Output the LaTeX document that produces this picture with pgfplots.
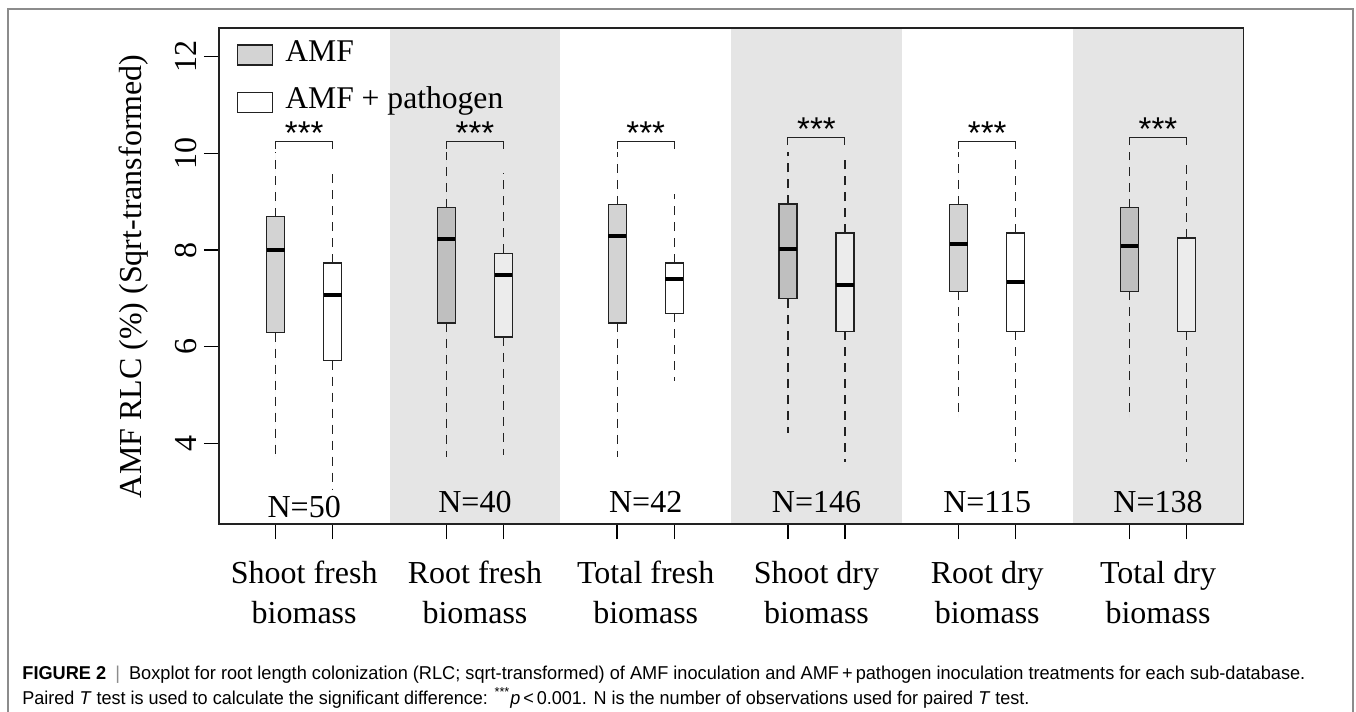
\documentclass[border=0pt]{standalone}
\usepackage{graphicx}
\usepackage{pgfplots}
\pgfplotsset{compat=1.18}
\usepgfplotslibrary{statistics}
\usepackage{fontspec}
\setmainfont{Liberation Serif}
\newfontfamily\capfont{Liberation Sans}
\definecolor{band}{HTML}{E5E5E5}
\definecolor{amf}{HTML}{5C5C5C}
\definecolor{edge}{HTML}{222222}
\definecolor{legamf}{HTML}{D3D3D3}
\definecolor{framec}{HTML}{8C8C8C}
\pgfplotsset{
  boxbase/.style={draw=edge, line width=0.6pt, forget plot, fill opacity=0.27,
    boxplot/draw direction=y,
    boxplot/box extend=0.105, boxplot/whisker extend=0,
    boxplot/every whisker/.style={dash pattern=on 4.5pt off 3.5pt, line width=0.55pt},
    boxplot/every median/.style={line width=2pt, draw=black}},
  amfbox/.style={boxbase, fill=amf},
  patbox/.style={boxbase, fill=white},
}
\begin{document}
\begin{tikzpicture}
\path[use as bounding box] (0,0) rectangle (678pt,356pt);
\draw[framec, line width=0.6pt] (4pt,-1pt) -- (4pt,351.5pt) -- (676.5pt,351.5pt) -- (676.5pt,-1pt);
\begin{axis}[
  at={(109.4pt,93.85pt)}, anchor=south west,
  scale only axis, width=512.3pt, height=248pt,
  xmin=0.5, xmax=6.5, ymin=2.324, ymax=12.588,
  axis on top,
  axis line style={line width=0.8pt, draw=edge},
  tick align=outside, xtick align=outside, ytick align=outside,
  xtick pos=bottom, ytick pos=left,
  major tick length=7.5pt,
  tick style={line width=0.7pt, black},
  /pgf/number format/assume math mode=true,
  xtick={0.833,1.167,1.833,2.167,2.833,3.167,3.833,4.167,4.833,5.167,5.833,6.167},
  xticklabels={},
  extra x ticks={1,2,3,4,5,6},
  extra x tick labels={{Shoot fresh\\biomass},{Root fresh\\biomass},{Total fresh\\biomass},{Shoot dry\\biomass},{Root dry\\biomass},{Total dry\\biomass}},
  extra x tick style={major tick length=0pt, xticklabel style={align=center, font=\fontsize{16}{20}\selectfont, anchor=north, yshift=-15pt}},
  ytick={4,6,8,10,12},
  yticklabel style={rotate=90, anchor=south, font=\fontsize{16}{19}\selectfont, xshift=0pt},
  ylabel={AMF RLC (\%) (Sqrt-transformed)},
  ylabel style={at={(axis description cs:-0.0828,0.5)}, anchor=center, font=\fontsize{16}{19}\selectfont},
  legend style={at={(axis description cs:0,1)}, anchor=north west, draw=none, fill=none,
    font=\fontsize{15.8}{15.8}\selectfont, xshift=8.9pt, yshift=-6.5pt, row sep=10.3pt, inner sep=0pt,
    nodes={inner sep=0pt, text height=10pt, text depth=3.3pt},
    /tikz/every odd column/.style={column sep=6.3pt}},
  legend cell align=left,
  legend image code/.code={\draw[#1] (0pt,-5pt) rectangle (17.3pt,5pt);},
]
% background bands
\addplot[fill=band, draw=none, forget plot] coordinates {(1.5,2.324) (1.5,12.588) (2.5,12.588) (2.5,2.324)} -- cycle;
\addplot[fill=band, draw=none, forget plot] coordinates {(3.5,2.324) (3.5,12.588) (4.5,12.588) (4.5,2.324)} -- cycle;
\addplot[fill=band, draw=none, forget plot] coordinates {(5.5,2.324) (5.5,12.588) (6.5,12.588) (6.5,2.324)} -- cycle;

% boxplots
\addplot[amfbox, boxplot prepared={draw position=0.833, lower whisker=3.72, lower quartile=6.29, median=8.00, upper quartile=8.69, upper whisker=10.02}] coordinates {};
\addplot[patbox, boxplot prepared={draw position=1.167, lower whisker=3.05, lower quartile=5.71, median=7.06, upper quartile=7.73, upper whisker=9.60}] coordinates {};
\addplot[amfbox, boxplot prepared={draw position=1.833, lower whisker=3.72, lower quartile=6.49, median=8.23, upper quartile=8.875, upper whisker=10.02}] coordinates {};
\addplot[patbox, boxplot prepared={draw position=2.167, lower whisker=3.75, lower quartile=6.20, median=7.49, upper quartile=7.93, upper whisker=9.60}] coordinates {};
\addplot[amfbox, boxplot prepared={draw position=2.833, lower whisker=3.72, lower quartile=6.49, median=8.30, upper quartile=8.94, upper whisker=10.02}] coordinates {};
\addplot[patbox, boxplot prepared={draw position=3.167, lower whisker=5.28, lower quartile=6.69, median=7.39, upper quartile=7.73, upper whisker=9.15}] coordinates {};
\addplot[amfbox, boxplot prepared={draw position=3.833, lower whisker=4.22, lower quartile=6.99, median=8.02, upper quartile=8.95, upper whisker=10.02}] coordinates {};
\addplot[patbox, boxplot prepared={draw position=4.167, lower whisker=3.62, lower quartile=6.32, median=7.28, upper quartile=8.35, upper whisker=9.96}] coordinates {};
\addplot[amfbox, boxplot prepared={draw position=4.833, lower whisker=4.53, lower quartile=7.145, median=8.13, upper quartile=8.94, upper whisker=10.02}] coordinates {};
\addplot[patbox, boxplot prepared={draw position=5.167, lower whisker=3.62, lower quartile=6.32, median=7.34, upper quartile=8.35, upper whisker=9.87}] coordinates {};
\addplot[amfbox, boxplot prepared={draw position=5.833, lower whisker=4.53, lower quartile=7.145, median=8.09, upper quartile=8.875, upper whisker=10.02}] coordinates {};
\addplot[patbox, boxplot/every median/.style={line width=0.6pt, draw=edge}, boxplot prepared={draw position=6.167, lower whisker=3.62, lower quartile=6.32, median=6.32, upper quartile=8.25, upper whisker=9.87}] coordinates {};

% brackets
\addplot[edge, line width=0.5pt, forget plot] coordinates {(0.833,10.10) (0.833,10.25) (1.167,10.25) (1.167,10.10)};
\addplot[edge, line width=0.5pt, forget plot] coordinates {(1.833,10.10) (1.833,10.25) (2.167,10.25) (2.167,10.10)};
\addplot[edge, line width=0.5pt, forget plot] coordinates {(2.833,10.10) (2.833,10.25) (3.167,10.25) (3.167,10.10)};
\addplot[edge, line width=0.5pt, forget plot] coordinates {(3.833,10.17) (3.833,10.33) (4.167,10.33) (4.167,10.17)};
\addplot[edge, line width=0.5pt, forget plot] coordinates {(4.833,10.10) (4.833,10.25) (5.167,10.25) (5.167,10.10)};
\addplot[edge, line width=0.5pt, forget plot] coordinates {(5.833,10.17) (5.833,10.33) (6.167,10.33) (6.167,10.17)};

% stars
\node[font=\capfont\fontsize{16.5}{16}\selectfont, yshift=-2.5pt] at (axis cs:1,10.52) {***};
\node[font=\capfont\fontsize{16.5}{16}\selectfont, yshift=-2.5pt] at (axis cs:2,10.52) {***};
\node[font=\capfont\fontsize{16.5}{16}\selectfont, yshift=-2.5pt] at (axis cs:3,10.52) {***};
\node[font=\capfont\fontsize{16.5}{16}\selectfont, yshift=-2.5pt] at (axis cs:4,10.61) {***};
\node[font=\capfont\fontsize{16.5}{16}\selectfont, yshift=-2.5pt] at (axis cs:5,10.52) {***};
\node[font=\capfont\fontsize{16.5}{16}\selectfont, yshift=-2.5pt] at (axis cs:6,10.61) {***};

% N labels
\node[font=\fontsize{16}{16}\selectfont] at (axis cs:1,2.69) {N=50};
\node[font=\fontsize{16}{16}\selectfont] at (axis cs:2,2.78) {N=40};
\node[font=\fontsize{16}{16}\selectfont] at (axis cs:3,2.78) {N=42};
\node[font=\fontsize{16}{16}\selectfont] at (axis cs:4,2.78) {N=146};
\node[font=\fontsize{16}{16}\selectfont] at (axis cs:5,2.78) {N=115};
\node[font=\fontsize{16}{16}\selectfont] at (axis cs:6,2.78) {N=138};

\addlegendimage{draw=edge, fill=legamf, line width=0.6pt}
\addlegendentry{AMF}
\addlegendimage{draw=edge, fill=white, line width=0.6pt}
\addlegendentry{AMF + pathogen}
\end{axis}
\node[anchor=base west, inner sep=0pt, font=\capfont\fontsize{9.3}{11}\selectfont] at (11pt,16.2pt)
  {\resizebox{641.5pt}{\height}{\textbf{FIGURE 2}\enspace{\color{framec}|}\enspace Boxplot for root length colonization (RLC; sqrt-transformed) of AMF inoculation and AMF\,+\,pathogen inoculation treatments for each sub-database.}};
\node[anchor=base west, inner sep=0pt, font=\capfont\fontsize{9.3}{11}\selectfont] at (11pt,3.7pt)
  {\resizebox{503.5pt}{\height}{Paired \textit{T} test is used to calculate the significant difference: \textsuperscript{***}\textit{p}\,<\,0.001. N is the number of observations used for paired \textit{T} test.}};
\end{tikzpicture}
\end{document}
